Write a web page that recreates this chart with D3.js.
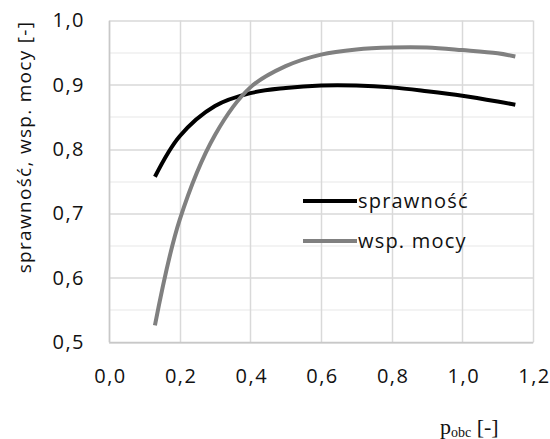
<!DOCTYPE html>
<html>
  <head>
    <meta charset="utf-8">
    <title>sprawność, wsp. mocy</title>
    <script src="https://d3js.org/d3.v7.min.js"></script>
    <style>
      body { margin: 0; background: #fff; }
      text { font-family: "Open Sans", sans-serif; fill: #111; }
    </style>
  </head>
  <body>
    <div id="chart"></div>
    <script>
      // values
      var pObc = [0.13, 0.2, 0.3, 0.4, 0.5, 0.6, 0.7, 0.8, 0.9, 1.0, 1.1, 1.15];
      var sprawnosc = [0.757, 0.82, 0.867, 0.887, 0.895, 0.899, 0.899, 0.896, 0.890, 0.883, 0.874, 0.869];
      var wspMocy = [0.526, 0.69, 0.822, 0.896, 0.929, 0.947, 0.955, 0.958, 0.958, 0.954, 0.949, 0.944];
      var xTicks = [0, 0.2, 0.4, 0.6, 0.8, 1.0, 1.2];
      var yTicks = [0.5, 0.6, 0.7, 0.8, 0.9, 1.0];
      var yMinor = [0.55, 0.65, 0.75, 0.85, 0.95];
      var seriesNames = ["sprawność", "wsp. mocy"];
      var seriesColors = ["#000000", "#808080"];

      var W = 550, H = 439;
      var margin = {top: 20.5, right: 17, bottom: 97, left: 109};
      var width = W - margin.left - margin.right,
          height = H - margin.top - margin.bottom;

      var svg = d3.select("#chart")
        .append("svg")
          .attr("width", W)
          .attr("height", H);
      var g = svg.append("g")
          .attr("transform", "translate(" + margin.left + "," + margin.top + ")");

      var x = d3.scaleLinear().domain([0, 1.2]).range([0, width]);
      var y = d3.scaleLinear().domain([0.5, 1.0]).range([height, 0]);
      var fmt = function(d) { return d3.format(".1f")(d).replace(".", ","); };

      // gridlines
      g.selectAll(".minor").data(yMinor).enter().append("line")
        .attr("x1", 0).attr("x2", width)
        .attr("y1", function(d) { return Math.round(y(d)) + 0.5; })
        .attr("y2", function(d) { return Math.round(y(d)) + 0.5; })
        .attr("stroke", "#efefef").attr("stroke-width", 1.5);
      g.selectAll(".hmajor").data(yTicks).enter().append("line")
        .attr("x1", 0).attr("x2", width)
        .attr("y1", function(d) { return Math.round(y(d)) + 0.5; })
        .attr("y2", function(d) { return Math.round(y(d)) + 0.5; })
        .attr("stroke", "#d9d9d9").attr("stroke-width", 1.5);
      g.selectAll(".vmajor").data(xTicks).enter().append("line")
        .attr("y1", 0).attr("y2", height)
        .attr("x1", function(d) { return Math.round(x(d)) + 0.5; })
        .attr("x2", function(d) { return Math.round(x(d)) + 0.5; })
        .attr("stroke", "#d9d9d9").attr("stroke-width", 1.5);

      // axes (bottom and left lines a bit darker)
      var xAxis = g.append("g")
        .attr("transform", "translate(0," + height + ")")
        .call(d3.axisBottom(x).tickValues(xTicks).tickFormat(fmt).tickSize(0).tickPadding(27));
      xAxis.select(".domain").attr("stroke", "#c8c8c8").attr("stroke-width", 1.5);
      xAxis.selectAll("text")
        .style("font-size", "20px").style("letter-spacing", "1.5px")
        .attr("dx", "1px");

      var yAxis = g.append("g")
        .call(d3.axisLeft(y).tickValues(yTicks).tickFormat(fmt).tickSize(0).tickPadding(24));
      yAxis.select(".domain").attr("stroke", "#c8c8c8").attr("stroke-width", 1.5);
      yAxis.selectAll("text")
        .style("font-size", "20px").style("letter-spacing", "1.5px");

      // lines
      var line = d3.line()
        .x(function(d) { return x(d[0]); })
        .y(function(d) { return y(d[1]); })
        .curve(d3.curveCatmullRom.alpha(0.5));

      [sprawnosc, wspMocy].forEach(function(vals, i) {
        g.append("path")
          .datum(pObc.map(function(p, j) { return [p, vals[j]]; }))
          .attr("fill", "none")
          .attr("stroke", seriesColors[i])
          .attr("stroke-width", 4)
          .attr("stroke-linejoin", "round")
          .attr("d", line);
      });

      // legend
      var legend = svg.append("g").attr("transform", "translate(303,201)");
      seriesNames.forEach(function(name, i) {
        var row = legend.append("g").attr("transform", "translate(0," + (i * 40) + ")");
        row.append("line")
          .attr("x1", 0).attr("x2", 54)
          .attr("stroke", seriesColors[i]).attr("stroke-width", 4);
        row.append("text")
          .attr("x", 55).attr("y", 7)
          .style("font-size", "20px")
          .style("letter-spacing", "1.2px")
          .text(name);
      });

      // axis titles
      svg.append("text")
        .attr("transform", "translate(31," + 147 + ") rotate(-90)")
        .attr("text-anchor", "middle")
        .style("font-size", "19px")
        .style("letter-spacing", "1.3px")
        .text("sprawność, wsp. mocy [-]");

      var xt = svg.append("text")
        .attr("x", 440).attr("y", 434)
        .style("font-family", "'Liberation Serif', serif")
        .style("font-size", "22px");
      xt.append("tspan").text("p");
      xt.append("tspan").attr("dy", 3).style("font-size", "14px").text("obc");
      xt.append("tspan").attr("dy", -3).text(" [-]");
    </script>
  </body>
</html>
